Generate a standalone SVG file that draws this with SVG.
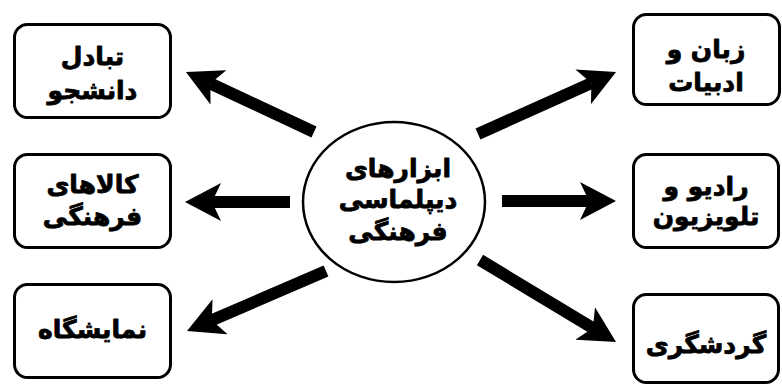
<svg xmlns="http://www.w3.org/2000/svg" width="782" height="385" viewBox="0 0 782 385">
<style>
  .box { fill: #ffffff; stroke: #000000; stroke-width: 3; }
  .hub { fill: #ffffff; stroke: #000000; stroke-width: 2.5; }
  .lbl { font-family: "DejaVu Sans", "Noto Sans", sans-serif; font-weight: bold; font-size: 25px; fill: #000000; stroke: #000000; stroke-width: 0.8; stroke-linejoin: round; text-anchor: middle; }
  .arrow { stroke: #000000; stroke-width: 12; fill: none; marker-end: url(#head); }
</style>
<defs>
  <marker id="head" markerUnits="userSpaceOnUse" markerWidth="36" markerHeight="38" viewBox="0 0 36 38" refX="9" refY="19" orient="auto">
    <path d="M0,0 L36,19 L0,38 L9,19 Z" fill="#000000"/>
  </marker>
</defs>
<rect width="782" height="385" fill="#ffffff"/>
<g id="connectors">
  <line class="arrow" x1="314" y1="132" x2="210.4" y2="83.5"/>
  <line class="arrow" x1="478" y1="134" x2="591.4" y2="83.1"/>
  <line class="arrow" x1="290" y1="202" x2="212" y2="202"/>
  <line class="arrow" x1="502" y1="201" x2="589" y2="201"/>
  <line class="arrow" x1="326" y1="271" x2="211.8" y2="320.3"/>
  <line class="arrow" x1="480" y1="260" x2="592.9" y2="328.1"/>
</g>
<g id="hub">
  <ellipse class="hub" cx="394" cy="202" rx="91" ry="80"/>
  <text class="lbl" x="398" y="177">ابزارهای</text>
  <text class="lbl" x="398" y="208">دیپلماسی</text>
  <text class="lbl" x="398" y="240">فرهنگی</text>
</g>
<g id="node-exchange">
  <rect class="box" x="14.5" y="24.5" width="156" height="93" rx="13"/>
  <text class="lbl" x="92.5" y="65">تبادل</text>
  <text class="lbl" x="92.5" y="99">دانشجو</text>
</g>
<g id="node-language">
  <rect class="box" x="633.5" y="14.5" width="146" height="90" rx="13"/>
  <text class="lbl" x="706" y="58">زبان و</text>
  <text class="lbl" x="706" y="91">ادبیات</text>
</g>
<g id="node-goods">
  <rect class="box" x="14.5" y="154.5" width="156" height="93" rx="13"/>
  <text class="lbl" x="92.5" y="193">کالاهای</text>
  <text class="lbl" x="92.5" y="225">فرهنگی</text>
</g>
<g id="node-radio">
  <rect class="box" x="633.5" y="154.5" width="145" height="93" rx="13"/>
  <text class="lbl" x="706" y="195">رادیو و</text>
  <text class="lbl" x="706" y="225">تلویزیون</text>
</g>
<g id="node-exhibition">
  <rect class="box" x="14.5" y="284.5" width="156" height="93" rx="13"/>
  <text class="lbl" x="92.5" y="338">نمایشگاه</text>
</g>
<g id="node-tourism">
  <rect class="box" x="633.5" y="294.5" width="145" height="88" rx="13"/>
  <text class="lbl" x="706" y="353">گردشگری</text>
</g>
</svg>
